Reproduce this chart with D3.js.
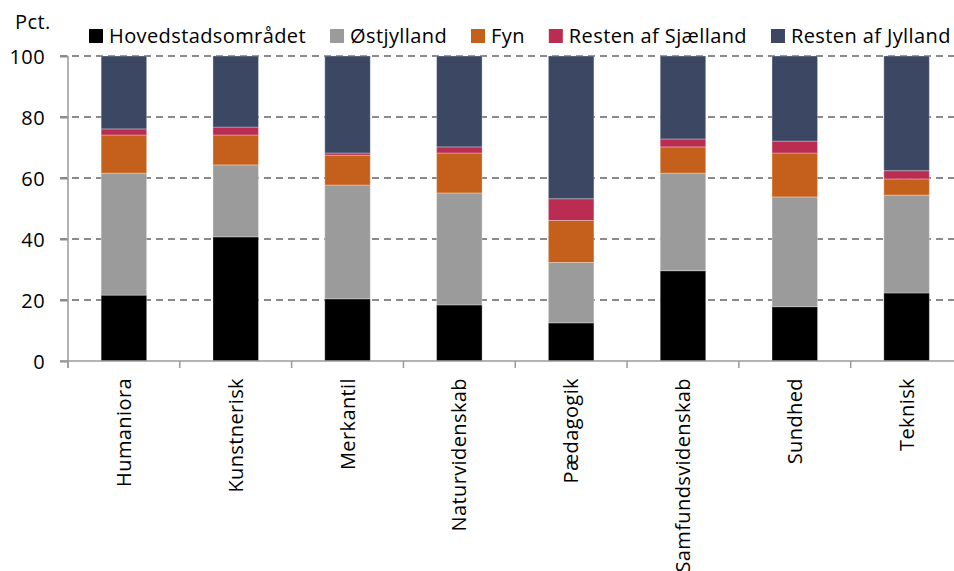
<!DOCTYPE html>
<html>
<head>
<meta charset="utf-8">
<script src="https://cdn.jsdelivr.net/npm/d3@7"></script>
<style>
  body { margin: 0; background: #fff; }
  text { font-family: "Open Sans", sans-serif; fill: #000; letter-spacing: 0.4px; }
</style>
</head>
<body>
<div id="chart"></div>
<script>
// kategorier og serier (pct.)
const categories = ['Humaniora', 'Kunstnerisk', 'Merkantil', 'Naturvidenskab',
                    'Pædagogik', 'Samfundsvidenskab', 'Sundhed', 'Teknisk'];
const seriesNames = ['Hovedstadsområdet', 'Østjylland', 'Fyn', 'Resten af Sjælland', 'Resten af Jylland'];
const seriesColors = ['#000000', '#9b9b9b', '#c45f1c', '#ba2c51', '#3c4764'];

const hovedstad   = [21.6, 40.7, 20.4, 18.4, 12.5, 29.6, 17.8, 22.3];
const ostjylland  = [40.0, 23.6, 37.3, 36.7, 19.8, 32.0, 36.0, 32.1];
const fyn         = [12.5,  9.8,  9.8, 13.1, 13.8,  8.6, 14.4,  5.3];
const restSjael   = [ 2.0,  2.6,  0.7,  2.0,  7.1,  2.6,  3.9,  2.7];
const restJylland = [23.9, 23.3, 31.8, 29.8, 46.8, 27.2, 27.9, 37.6];

const yTicks = [0, 20, 40, 60, 80, 100];

const seriesValues = [hovedstad, ostjylland, fyn, restSjael, restJylland];
const tableData = categories.map((c, i) => {
    const row = {category: c};
    seriesNames.forEach((s, j) => row[s] = seriesValues[j][i]);
    return row;
});

const svg_width = 954;
const svg_height = 571;
const margin = {top: 56, left: 68, bottom: 210, right: -8.5};
const plotW = svg_width - margin.left - margin.right;
const plotH = svg_height - margin.top - margin.bottom;

const svg = d3.select('#chart').append('svg')
    .attr('width', svg_width).attr('height', svg_height);

const xScale = d3.scaleBand().domain(categories)
    .range([margin.left, margin.left + plotW])
    .paddingInner(0.593).paddingOuter(0.2965);
const yScale = d3.scaleLinear().domain([0, 100])
    .range([margin.top + plotH, margin.top]);

// gitterlinjer
svg.append('g').attr('class', 'grid')
    .selectAll('line').data(yTicks.filter(d => d > 0)).enter()
    .append('line')
    .attr('x1', margin.left - 8).attr('x2', margin.left + plotW)
    .attr('y1', d => yScale(d)).attr('y2', d => yScale(d))
    .style('stroke', '#8a8a8a').style('stroke-width', 2)
    .style('stroke-dasharray', '7,5');

// stablede søjler
const stacked = d3.stack().keys(seriesNames)(tableData);
svg.append('g').attr('class', 'bars')
    .selectAll('g').data(stacked).enter()
    .append('g').style('fill', (d, i) => seriesColors[i])
    .selectAll('rect').data(d => d).enter()
    .append('rect')
    .attr('x', d => xScale(d.data.category))
    .attr('width', xScale.bandwidth())
    .attr('y', d => yScale(d[1]))
    .attr('height', d => yScale(d[0]) - yScale(d[1]))
    .style('stroke', 'rgba(255,255,255,0.3)').style('stroke-width', 1);

// y-akse
const yAxis = d3.axisLeft(yScale).tickValues(yTicks).tickSize(8).tickPadding(15);
const yAxisDraw = svg.append('g').attr('class', 'y axis')
    .attr('transform', `translate(${margin.left},0)`)
    .call(yAxis);
yAxisDraw.select('.domain').remove();
yAxisDraw.selectAll('.tick line').style('stroke', '#8a8a8a').style('stroke-width', 2);
yAxisDraw.selectAll('text').style('font-size', '20px').attr('dy', '0.35em')
    .style('font-family', '"Open Sans", sans-serif');
svg.append('line')
    .attr('x1', margin.left).attr('x2', margin.left)
    .attr('y1', yScale(100)).attr('y2', yScale(0) + 7)
    .style('stroke', '#9a9a9a').style('stroke-width', 1.5);

// x-akse
svg.append('line')
    .attr('x1', margin.left - 8).attr('x2', margin.left + plotW)
    .attr('y1', yScale(0)).attr('y2', yScale(0))
    .style('stroke', '#9a9a9a').style('stroke-width', 1.5);
const boundaries = d3.range(categories.length + 1).map(i => margin.left + i * xScale.step());
svg.append('g').selectAll('line').data(boundaries).enter()
    .append('line')
    .attr('x1', d => d).attr('x2', d => d)
    .attr('y1', yScale(0)).attr('y2', yScale(0) + 7)
    .style('stroke', '#9a9a9a').style('stroke-width', 1.5);

svg.append('g').attr('class', 'x labels')
    .selectAll('text').data(categories).enter()
    .append('text')
    .attr('transform', d => `translate(${xScale(d) + xScale.bandwidth() / 2},${yScale(0) + 17}) rotate(-90)`)
    .attr('dy', '0.35em')
    .style('text-anchor', 'end')
    .style('font-size', '20px')
    .text(d => d);

// enhed
svg.append('text').attr('x', 15).attr('y', 29)
    .style('font-size', '20px').text('Pct.');

// legende
const legend = svg.append('g').attr('class', 'legend');
let lx = 89;
seriesNames.forEach((name, i) => {
    legend.append('rect')
        .attr('x', lx).attr('y', 29).attr('width', 14).attr('height', 14)
        .style('fill', seriesColors[i]);
    const t = legend.append('text')
        .attr('x', lx + 20).attr('y', 43)
        .style('font-size', '20px').text(name);
    lx += 20 + t.node().getComputedTextLength() + 24;
});
</script>
</body>
</html>
